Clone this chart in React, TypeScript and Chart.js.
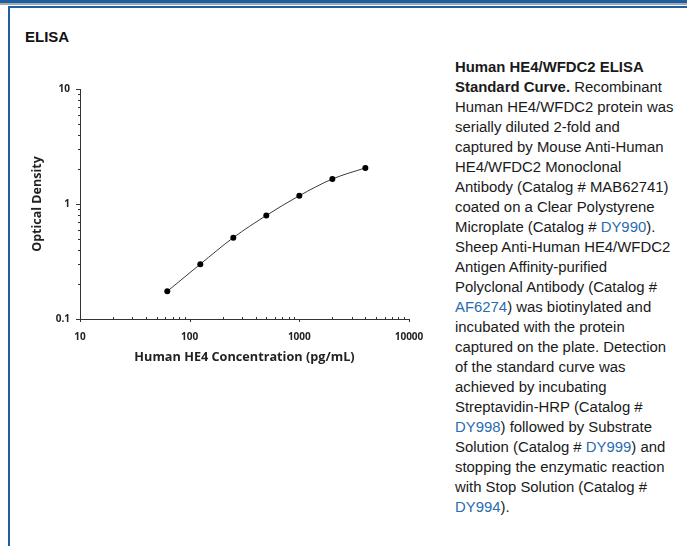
import React, { useEffect, useRef } from "react";
import { Chart, registerables } from "chart.js";

Chart.register(...registerables);

// ---- data ----
const CONCENTRATION = [62.5, 125, 250, 500, 1000, 2000, 4000];
const OPTICAL_DENSITY = [0.174, 0.3, 0.51, 0.795, 1.18, 1.65, 2.06];
const X_MAJOR = [10, 100, 1000, 10000];
const Y_MAJOR = [0.1, 1, 10];
const X_LABELS = ["10", "100", "1000", "10000"];
const Y_LABELS = ["0.1", "1", "10"];

const BLUE = "#1c5fa3";
const LINK = "#2a6cb0";
const AXIS = "#333333";

function withMinors(majors: number[]): number[] {
  const out: number[] = [];
  for (let i = 0; i < majors.length; i++) {
    out.push(majors[i]);
    if (i < majors.length - 1) {
      for (let k = 2; k <= 9; k++) out.push(+(majors[i] * k).toPrecision(6));
    }
  }
  return out;
}

const X_TICKS = withMinors(X_MAJOR);
const Y_TICKS = withMinors(Y_MAJOR);

const isMajorOf = (list: number[], v: number) =>
  list.some((m) => Math.abs(m - v) / m < 1e-6);

const tickMarks = {
  id: "tickMarks",
  afterDraw(chart: any) {
    const ctx = chart.ctx;
    const xs = chart.scales.x;
    const ys = chart.scales.y;
    const area = chart.chartArea;
    ctx.save();
    ctx.strokeStyle = AXIS;
    ctx.lineWidth = 1;
    xs.ticks.forEach((t: any) => {
      const px = Math.round(xs.getPixelForValue(t.value)) + 0.5;
      ctx.beginPath();
      if (isMajorOf(X_MAJOR, t.value)) {
        ctx.moveTo(px, area.bottom);
        ctx.lineTo(px, area.bottom + 3);
      } else {
        ctx.moveTo(px, area.bottom);
        ctx.lineTo(px, area.bottom - 2);
      }
      ctx.stroke();
    });
    ys.ticks.forEach((t: any) => {
      const py = Math.round(ys.getPixelForValue(t.value)) + 0.5;
      ctx.beginPath();
      const len = isMajorOf(Y_MAJOR, t.value) ? 4 : 2;
      ctx.moveTo(area.left, py);
      ctx.lineTo(area.left - len, py);
      ctx.stroke();
    });
    ctx.restore();
  },
};

const CW = 420;
const CH = 320;

function ElisaChart() {
  const ref = useRef<HTMLCanvasElement | null>(null);
  useEffect(() => {
    if (!ref.current) return;
    const font = { family: '"Open Sans", "DejaVu Sans", sans-serif', weight: "bold" as const };
    const chart = new Chart(ref.current, {
      type: "scatter",
      data: {
        datasets: [
          {
            data: CONCENTRATION.map((x, i) => ({ x, y: OPTICAL_DENSITY[i] })),
            showLine: true,
            borderColor: "#3a3a3a",
            borderWidth: 1,
            backgroundColor: "#000000",
            pointBackgroundColor: "#000000",
            pointBorderColor: "#000000",
            pointRadius: 3,
            pointBorderWidth: 0,
            cubicInterpolationMode: "monotone",
          } as any,
        ],
      },
      options: {
        responsive: false,
        animation: false,
        devicePixelRatio: window.devicePixelRatio || 1,
        layout: { padding: { top: 29, right: 31, bottom: 0, left: 0 } },
        plugins: {
          legend: { display: false },
          tooltip: { enabled: false },
        },
        scales: {
          x: {
            type: "logarithmic",
            min: 10,
            max: 10000,
            afterBuildTicks: (scale: any) => {
              scale.ticks = X_TICKS.map((v) => ({ value: v, major: isMajorOf(X_MAJOR, v) }));
            },
            afterFit: (scale: any) => {
              scale.height = 61;
            },
            grid: { display: true, drawOnChartArea: false, drawTicks: false },
            border: { display: true, color: AXIS, width: 1 },
            ticks: {
              autoSkip: false,
              maxRotation: 0,
              padding: 12,
              color: "#222222",
              font: { ...font, size: 10 },
              callback: (v: any) => {
                const idx = X_MAJOR.findIndex((m) => Math.abs(m - Number(v)) / m < 1e-6);
                return idx >= 0 ? X_LABELS[idx] : "";
              },
            },
            title: {
              display: true,
              text: "Human HE4 Concentration (pg/mL)",
              color: "#222222",
              font: { ...font, size: 12.7 },
              padding: { top: 0, bottom: 15 },
            },
          },
          y: {
            type: "logarithmic",
            min: 0.1,
            max: 10,
            afterBuildTicks: (scale: any) => {
              scale.ticks = Y_TICKS.map((v) => ({ value: v, major: isMajorOf(Y_MAJOR, v) }));
            },
            afterFit: (scale: any) => {
              scale.width = 60;
            },
            grid: { display: true, drawOnChartArea: false, drawTicks: false },
            border: { display: true, color: AXIS, width: 1 },
            ticks: {
              autoSkip: false,
              padding: 10,
              color: "#222222",
              font: { ...font, size: 10 },
              callback: (v: any) => {
                const idx = Y_MAJOR.findIndex((m) => Math.abs(m - Number(v)) / m < 1e-6);
                return idx >= 0 ? Y_LABELS[idx] : "";
              },
            },
            title: {
              display: true,
              text: "Optical Density",
              color: "#222222",
              font: { ...font, size: 12.5 },
              padding: { top: 10, bottom: 0 },
            },
          },
        },
      },
      plugins: [tickMarks],
    });
    return () => chart.destroy();
  }, []);
  return <canvas ref={ref} width={CW} height={CH} style={{ width: CW, height: CH, display: "block" }} />;
}

const L = (t: string) => <span style={{ color: LINK }}>{t}</span>;

export default function App() {
  return (
    <div
      style={{
        position: "absolute",
        left: 0,
        top: 0,
        width: 687,
        height: 546,
        background: "#ffffff",
        overflow: "hidden",
        fontFamily: 'Arial, "Liberation Sans", Helvetica, sans-serif',
        color: "#1a1a1a",
      }}
    >
      <div style={{ position: "absolute", left: 0, top: 0, width: 687, height: 3, background: BLUE }} />
      <div style={{ position: "absolute", left: 0, top: 3, width: 687, height: 2, background: "#a8a8a8" }} />
      <div style={{ position: "absolute", left: 8, top: 6, width: 679, height: 2, background: BLUE }} />
      <div style={{ position: "absolute", left: 8, top: 6, width: 2, height: 540, background: BLUE }} />
      <div
        style={{
          position: "absolute",
          left: 25,
          top: 27,
          fontWeight: "bold",
          fontSize: 15,
          lineHeight: "20px",
          color: "#111",
        }}
      >
        ELISA
      </div>
      <div style={{ position: "absolute", left: 20, top: 60, width: CW, height: CH }}>
        <ElisaChart />
      </div>
      <div
        style={{
          position: "absolute",
          left: 455,
          top: 57,
          fontSize: 14.9,
          lineHeight: "20px",
          whiteSpace: "nowrap",
          color: "#1a1a1a",
        }}
      >
        <b>Human HE4/WFDC2 ELISA</b>
        <br />
        <b>Standard Curve.</b> Recombinant
        <br />
        Human HE4/WFDC2 protein was
        <br />
        serially diluted 2-fold and
        <br />
        captured by Mouse Anti-Human
        <br />
        HE4/WFDC2 Monoclonal
        <br />
        Antibody (Catalog # MAB62741)
        <br />
        coated on a Clear Polystyrene
        <br />
        Microplate (Catalog # {L("DY990")}).
        <br />
        Sheep Anti-Human HE4/WFDC2
        <br />
        Antigen Affinity-purified
        <br />
        Polyclonal Antibody (Catalog #
        <br />
        {L("AF6274")}) was biotinylated and
        <br />
        incubated with the protein
        <br />
        captured on the plate. Detection
        <br />
        of the standard curve was
        <br />
        achieved by incubating
        <br />
        Streptavidin-HRP (Catalog #
        <br />
        {L("DY998")}) followed by Substrate
        <br />
        Solution (Catalog # {L("DY999")}) and
        <br />
        stopping the enzymatic reaction
        <br />
        with Stop Solution (Catalog #
        <br />
        {L("DY994")}).
      </div>
    </div>
  );
}
